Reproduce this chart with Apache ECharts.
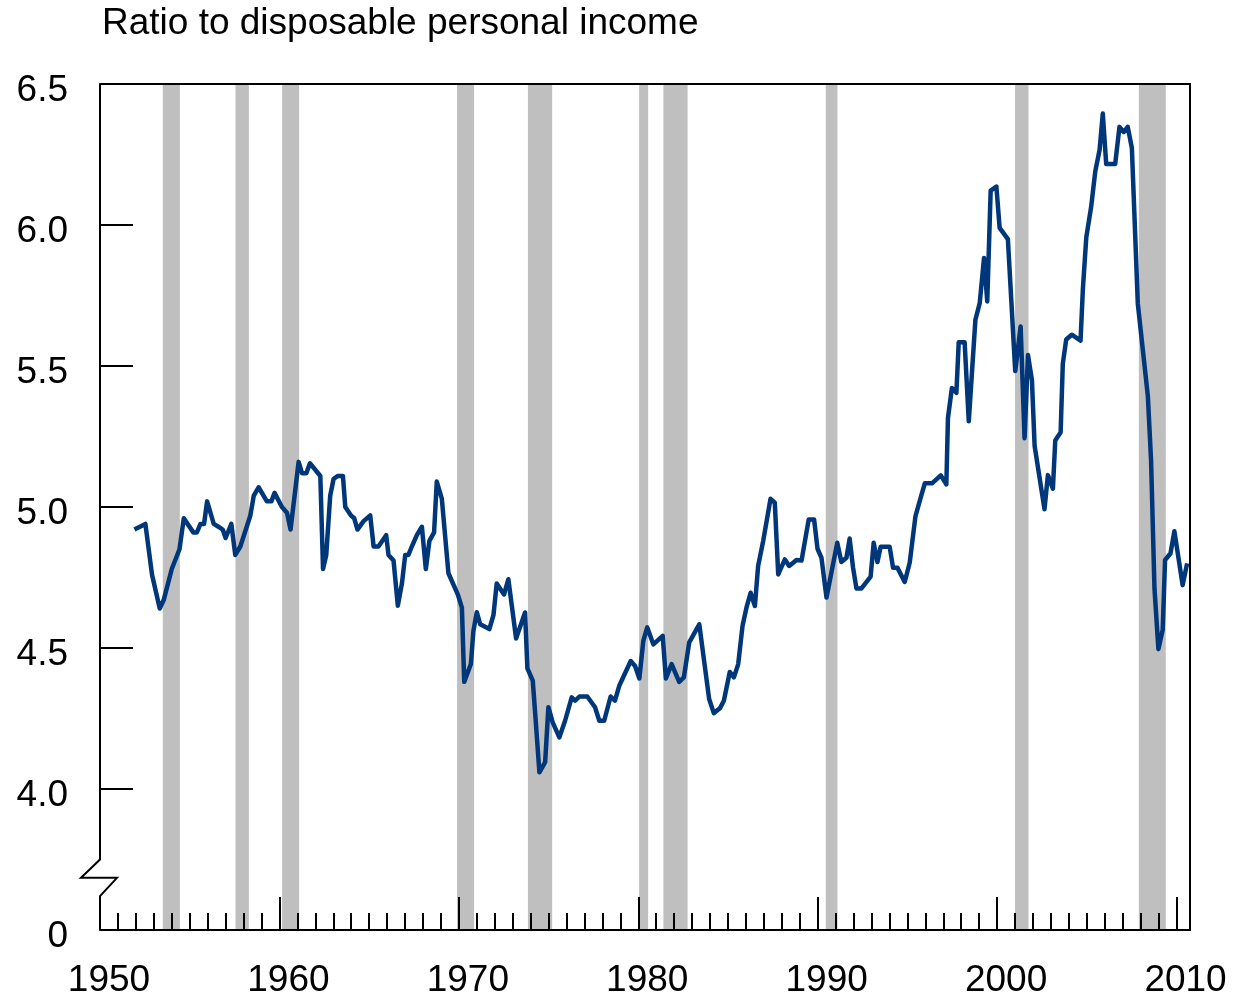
<!DOCTYPE html>
<html>
<head>
<meta charset="utf-8">
<title>Ratio to disposable personal income</title>
<script src="https://cdn.jsdelivr.net/npm/echarts@6/dist/echarts.min.js"></script>
<style>
  html, body { margin: 0; padding: 0; background: #fff; }
  #chart { width: 1236px; height: 997px; }
</style>
</head>
<body>
<div id="chart"></div>
<script>
(function () {
    'use strict';

    var FONT = '"Liberation Sans", Arial, Helvetica, sans-serif';
    var TITLE = 'Ratio to disposable personal income';

    var YEARS = [
        1951.92, 1952.53, 1952.90, 1953.33, 1953.55, 1954.00, 1954.43, 1954.67, 1955.20, 1955.40,
        1955.60, 1955.80, 1955.97, 1956.34, 1956.60, 1956.84, 1957.00, 1957.32, 1957.54, 1957.82,
        1958.38, 1958.57, 1958.84, 1959.30, 1959.55, 1959.73, 1960.14, 1960.42, 1960.62, 1961.07,
        1961.26, 1961.50, 1961.70, 1962.28, 1962.43, 1962.61, 1962.83, 1963.02, 1963.26, 1963.54,
        1963.67, 1963.99, 1964.17, 1964.35, 1964.69, 1965.06, 1965.25, 1965.52, 1965.95, 1966.08,
        1966.36, 1966.60, 1966.83, 1967.01, 1967.19, 1967.38, 1967.66, 1967.94, 1968.16, 1968.36,
        1968.62, 1968.77, 1969.05, 1969.42, 1969.94, 1970.17, 1970.30, 1970.67, 1970.81, 1971.00,
        1971.19, 1971.70, 1971.93, 1972.11, 1972.52, 1972.76, 1973.19, 1973.69, 1973.82, 1974.12,
        1974.25, 1974.49, 1974.81, 1974.99, 1975.23, 1975.60, 1975.92, 1976.29, 1976.48, 1976.72,
        1977.16, 1977.59, 1977.83, 1978.10, 1978.46, 1978.70, 1978.94, 1979.58, 1979.82, 1980.06,
        1980.28, 1980.50, 1980.84, 1981.36, 1981.54, 1981.86, 1982.28, 1982.54, 1982.84, 1983.40,
        1983.95, 1984.21, 1984.55, 1984.77, 1985.10, 1985.33, 1985.57, 1985.81, 1986.03, 1986.26,
        1986.50, 1986.68, 1986.96, 1987.37, 1987.61, 1987.80, 1988.17, 1988.41, 1988.82, 1989.10,
        1989.50, 1989.80, 1989.99, 1990.21, 1990.49, 1991.09, 1991.32, 1991.60, 1991.78, 1991.97,
        1992.16, 1992.44, 1992.95, 1993.12, 1993.33, 1993.51, 1994.01, 1994.20, 1994.44, 1994.85,
        1995.13, 1995.45, 1995.74, 1995.97, 1996.37, 1996.86, 1997.17, 1997.26, 1997.48, 1997.73,
        1997.86, 1998.19, 1998.42, 1998.79, 1999.03, 1999.27, 1999.45, 1999.64, 1999.96, 2000.14,
        2000.60, 2001.01, 2001.31, 2001.53, 2001.72, 2001.94, 2002.09, 2002.64, 2002.83, 2003.11,
        2003.24, 2003.54, 2003.66, 2003.85, 2004.16, 2004.65, 2004.78, 2004.97, 2005.24, 2005.47,
        2005.71, 2005.89, 2006.08, 2006.58, 2006.82, 2007.06, 2007.28, 2007.51, 2007.84, 2008.40,
        2008.58, 2008.77, 2008.99, 2009.23, 2009.36, 2009.66, 2009.88, 2010.34, 2010.59
    ];

    var RATIO = [
        4.92, 4.94, 4.76, 4.64, 4.67, 4.78, 4.85, 4.96, 4.91, 4.91,
        4.94, 4.94, 5.02, 4.94, 4.93, 4.92, 4.89, 4.94, 4.83, 4.86,
        4.97, 5.04, 5.07, 5.02, 5.02, 5.05, 5.00, 4.98, 4.92, 5.16,
        5.12, 5.12, 5.155, 5.11, 4.78, 4.83, 5.04, 5.10, 5.11, 5.11,
        5.00, 4.97, 4.96, 4.92, 4.95, 4.97, 4.86, 4.86, 4.90, 4.83,
        4.81, 4.65, 4.73, 4.83, 4.83, 4.86, 4.90, 4.93, 4.78, 4.88,
        4.91, 5.09, 5.03, 4.765, 4.69, 4.643, 4.38, 4.443, 4.56, 4.627,
        4.584, 4.567, 4.617, 4.729, 4.69, 4.744, 4.534, 4.626, 4.428, 4.384,
        4.272, 4.059, 4.095, 4.29, 4.236, 4.183, 4.242, 4.325, 4.313, 4.328,
        4.328, 4.29, 4.242, 4.242, 4.328, 4.313, 4.366, 4.454, 4.436, 4.392,
        4.525, 4.573, 4.513, 4.543, 4.392, 4.443, 4.38, 4.396, 4.52, 4.584,
        4.319, 4.269, 4.286, 4.313, 4.415, 4.396, 4.443, 4.578, 4.643, 4.696,
        4.649, 4.791, 4.879, 5.029, 5.015, 4.761, 4.814, 4.791, 4.812, 4.81,
        4.956, 4.956, 4.852, 4.82, 4.679, 4.873, 4.805, 4.82, 4.888, 4.785,
        4.711, 4.711, 4.753, 4.873, 4.805, 4.859, 4.859, 4.785, 4.785, 4.734,
        4.803, 4.968, 5.033, 5.084, 5.084, 5.112, 5.08, 5.316, 5.422, 5.405,
        5.584, 5.584, 5.304, 5.664, 5.723, 5.883, 5.729, 6.122, 6.136, 5.99,
        5.95, 5.482, 5.64, 5.244, 5.539, 5.45, 5.217, 4.992, 5.113, 5.065,
        5.236, 5.265, 5.507, 5.594, 5.611, 5.59, 5.773, 5.956, 6.064, 6.19,
        6.266, 6.395, 6.216, 6.216, 6.348, 6.33, 6.348, 6.273, 5.722, 5.394,
        5.166, 4.711, 4.496, 4.565, 4.812, 4.835, 4.914, 4.723, 4.80
    ];

    // Recession shading (start, end in decimal years).
    var RECESSION_START = [1953.50, 1957.55, 1960.15, 1969.90, 1973.85, 1980.05, 1981.40, 1990.45, 2001.00, 2007.90];
    var RECESSION_END   = [1954.45, 1958.30, 1961.10, 1970.85, 1975.20, 1980.55, 1982.75, 1991.10, 2001.75, 2009.40];

    // Axis extents; the bottom of the value axis is a broken axis labelled 0.
    var X_MIN = 1950, X_MAX = 2010.75;
    var Y_MIN = 3.5, Y_MAX = 6.5;

    var chart = echarts.init(document.getElementById('chart'), null, { renderer: 'canvas' });

    var lineData = YEARS.map(function (y, i) { return [y, RATIO[i]]; });
    var bands = RECESSION_START.map(function (s, i) {
        return [{ xAxis: s }, { xAxis: RECESSION_END[i] }];
    });

    var black = '#000';

    var option = {
        backgroundColor: '#fff',
        animation: false,
        title: {
            text: TITLE, left: 97, top: 0,
            textStyle: { fontFamily: FONT, fontSize: 37, fontWeight: 'normal', color: black }
        },
        grid: { left: 100, right: 46, top: 84, bottom: 67, containLabel: false, outerBoundsMode: 'none' },
        xAxis: [{
            // decade ticks and labels
            type: 'value', position: 'bottom', min: X_MIN, max: X_MAX, interval: 10, z: 10,
            axisLine: { show: true, lineStyle: { color: black, width: 2 } },
            axisTick: { show: true, inside: true, length: 33, lineStyle: { color: black, width: 2 } },
            splitLine: { show: false },
            axisLabel: {
                color: black, fontFamily: FONT, fontSize: 37, margin: 32, padding: [0, 0, 0, 18],
                alignMinLabel: 'center',
                showMaxLabel: false,
                formatter: function (v) { return v % 10 === 0 ? String(v) : ''; }
            }
        }, {
            // yearly minor ticks
            type: 'value', position: 'bottom', min: X_MIN, max: X_MAX, interval: 1, z: 10,
            axisLine: { show: false },
            axisTick: { show: true, inside: true, length: 17, lineStyle: { color: black, width: 2 } },
            splitLine: { show: false },
            axisLabel: { show: false }
        }, {
            // top frame
            type: 'value', position: 'top', min: X_MIN, max: X_MAX, z: 10,
            axisLine: { show: true, lineStyle: { color: black, width: 2 } },
            axisTick: { show: false }, axisLabel: { show: false }, splitLine: { show: false }
        }],
        yAxis: [{
            type: 'value', position: 'left', min: Y_MIN, max: Y_MAX, interval: 0.5, z: 10,
            axisLine: { show: false },
            axisTick: { show: true, inside: true, length: 33, lineStyle: { color: black, width: 2 } },
            splitLine: { show: false },
            axisLabel: {
                color: black, fontFamily: FONT, fontSize: 37, margin: 32,
                verticalAlign: 'top', lineHeight: 14,
                formatter: function (v) { return v === Y_MIN ? '0' : v.toFixed(1); }
            }
        }, {
            // right frame
            type: 'value', position: 'right', min: Y_MIN, max: Y_MAX, z: 10,
            axisLine: { show: true, lineStyle: { color: black, width: 2 } },
            axisTick: { show: false }, axisLabel: { show: false }, splitLine: { show: false }
        }],
        series: [{
            type: 'line',
            xAxisIndex: 0, yAxisIndex: 0,
            data: lineData,
            showSymbol: false,
            symbol: 'none',
            clip: true,
            lineStyle: { color: '#00377a', width: 4.5, join: 'round' },
            itemStyle: { color: '#00377a' },
            markArea: {
                silent: true,
                itemStyle: { color: '#bfbfbf', opacity: 1 },
                data: bands
            },
            z: 3
        }]
    };

    chart.setOption(option);

    // Left frame with the axis-break zigzag, positioned through the axis scales.
    function drawBreak() {
        var x0 = chart.convertToPixel({ xAxisIndex: 0 }, X_MIN);
        var yTop = chart.convertToPixel({ yAxisIndex: 0 }, Y_MAX);
        var yBot = chart.convertToPixel({ yAxisIndex: 0 }, Y_MIN);
        var yB1 = chart.convertToPixel({ yAxisIndex: 0 }, 3.75);
        var yMid = chart.convertToPixel({ yAxisIndex: 0 }, 3.685);
        var yB2 = chart.convertToPixel({ yAxisIndex: 0 }, 3.62);
        chart.setOption({
            graphic: [{
                type: 'polyline', z: 20, silent: true,
                shape: { points: [[x0, yTop], [x0, yB1], [x0 - 19, yMid], [x0 + 17, yMid], [x0, yB2], [x0, yBot]] },
                style: { stroke: black, lineWidth: 2, fill: null }
            }]
        });
    }
    drawBreak();
})();
</script>
</body>
</html>
